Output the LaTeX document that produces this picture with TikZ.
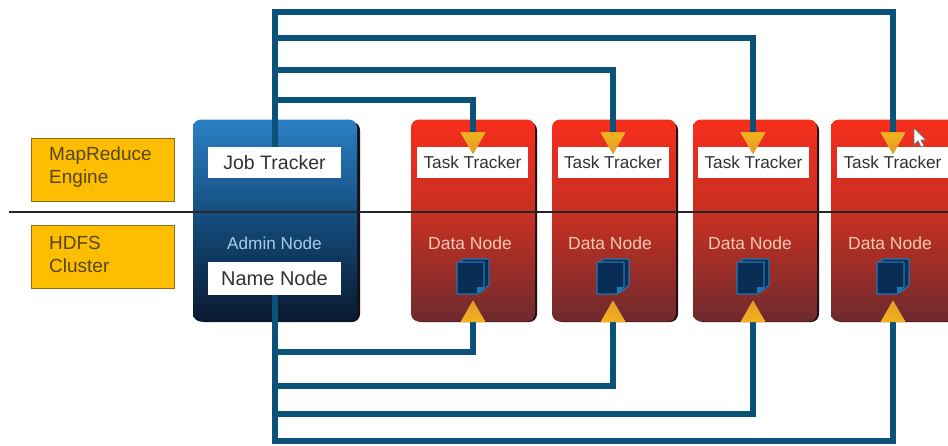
\documentclass[tikz,border=0pt]{standalone}
\usepackage{fontspec}
\setmainfont{Liberation Sans}
\usetikzlibrary{shapes.geometric}
\definecolor{busblue}{HTML}{0B5278}
\definecolor{txtgray}{HTML}{2E3236}
\definecolor{redtop}{HTML}{F62E1C}
\definecolor{redmid}{HTML}{C23022}
\definecolor{redbot}{HTML}{6E2A2E}
\definecolor{bluetop}{HTML}{2A80C4}
\definecolor{bluemid}{HTML}{144A7A}
\definecolor{bluebot}{HTML}{08192F}
\definecolor{shadowc}{HTML}{1B0E14}
\definecolor{legend}{HTML}{FDBD00}
\definecolor{legendedge}{HTML}{8A6E18}
\definecolor{legendtxt}{HTML}{55451A}
\definecolor{tipa}{HTML}{F2B21E}
\definecolor{tipb}{HTML}{E39A28}
\definecolor{docfill}{HTML}{0A2D55}
\definecolor{docedge}{HTML}{1E78B4}
\definecolor{adminc}{HTML}{A9CDE8}
\definecolor{datac}{HTML}{F6C8B4}
\tikzset{
  bus/.style={draw=busblue,line width=6pt,line cap=butt,line join=miter},
  whitebox/.style={fill=white,draw=none,inner sep=0pt,text=txtgray,minimum height=31pt},
  redbox/.style={rounded corners=8pt,inner sep=0pt,minimum width=124pt,minimum height=202pt,
    top color=redtop,bottom color=redbot,middle color=redmid},
  bluebox/.style={rounded corners=8pt,inner sep=0pt,minimum width=164pt,minimum height=202pt,
    top color=bluetop,bottom color=bluebot,middle color=bluemid},
  shadowbox/.style={rounded corners=8pt,fill=shadowc,inner sep=0pt,minimum height=200pt},
  yellowbox/.style={fill=legend,draw=legendedge,line width=1pt,inner sep=0pt,minimum width=143pt,minimum height=63pt},
  legendtext/.style={anchor=west,text=legendtxt,font=\fontsize{19}{23}\selectfont,align=left,inner sep=0pt},
  inlabel/.style={inner sep=0pt},
  tipdown/.style={isosceles triangle,isosceles triangle apex angle=60,shape border rotate=270,inner sep=0pt,minimum height=21pt,minimum width=25pt,draw=none,top color=tipa,bottom color=tipb},
  tipup/.style={isosceles triangle,isosceles triangle apex angle=60,shape border rotate=90,inner sep=0pt,minimum height=21pt,minimum width=25pt,draw=none,top color=tipb,bottom color=tipa},
  docicon/.style={fill=docfill,draw=docedge,line width=1.2pt,rounded corners=0.6pt},
}
\begin{document}
\begin{tikzpicture}[x=1pt,y=-1pt]
\useasboundingbox (0,0) rectangle (948,445);
\clip (0,0) rectangle (948,445);
% legend
\node[yellowbox] (mr) at (102.5,169.5) {};
\node[yellowbox] (hd) at (102.5,256.5) {};
\node[legendtext] (mrt) at (49,167.5) {MapReduce\\Engine};
\node[legendtext] (hdt) at (49,254.5) {HDFS\\Cluster};
% admin
\node[shadowbox,minimum width=164pt] (sa) at (278,222) {};
\node[bluebox] (admin) at (275,220.5) {};
% workers
\foreach \i/\cx in {1/473,2/614,3/755,4/893}{
  \node[shadowbox,minimum width=124pt] (s\i) at (\cx+2,222) {};
  \node[redbox] (w\i) at (\cx,220.5) {};
}
% line across
\coordinate (ls) at (9,212);
\coordinate (le) at (948,212);
\draw[line width=1.8pt,draw=black!85] (ls) -- (le);
% white boxes
\node[whitebox,minimum width=133pt,font=\fontsize{19.5}{21}\selectfont] (jt) at (274.5,162.5) {Job Tracker};
\node[whitebox,minimum width=133pt,minimum height=33pt,font=\fontsize{20}{22}\selectfont] (nn) at (274.5,278.5) {Name Node};
\node[inlabel,text=adminc,font=\fontsize{17.2}{19}\selectfont] (an) at (274.5,243) {Admin Node};
\foreach \i/\cx in {1/472.5,2/613,3/753.5,4/892.5}{
  \node[whitebox,minimum width=111pt,font=\fontsize{17.2}{19}\selectfont] (tt\i) at (\cx,162.5) {Task Tracker};
}
\foreach \i/\cx in {1/473,2/613,3/753,4/893}{
  \node[inlabel,text=datac,font=\fontsize{17.5}{19}\selectfont] (dn\i) at (\cx-3,243) {Data Node};
  \node[tipdown] (td\i) at (\cx,139.5) {};
  \node[tipup] (tu\i) at (\cx,315) {};
  \begin{scope}[shift={(\cx,0)}]
    \draw[docicon] (-11,259) -- (16,259) -- (16,285) -- (8,292) -- (-11,292) -- cycle;
    \draw[docicon] (-16,262) -- (11,262) -- (11,287) -- (4,294) -- (-16,294) -- cycle;
    \fill[docedge] (4,294) -- (4,287) -- (11,287) -- cycle;
  \end{scope}
}
% buses
\coordinate (h1) at (473,100);
\coordinate (h2) at (613,70);
\coordinate (h3) at (753,38);
\coordinate (h4) at (893,12);
\coordinate (l1) at (473,352);
\coordinate (l2) at (613,386);
\coordinate (l3) at (753,414);
\coordinate (l4) at (893,441);
\foreach \i in {1,2,3,4}{
  \draw[bus] (jt.north) |- (h\i) -- (td\i.north);
  \draw[bus] (nn.south) |- (l\i) -- (tu\i.south);
}
\foreach \i in {1,2,3,4}{
  \node[tipdown] at (td\i) {};
  \node[tipup] at (tu\i) {};
}
% cursor
\draw[fill=white,draw=black!55,line width=0.8pt] (914,128) -- (914,145) -- (918,141) -- (921,147) -- (924,146) -- (921,140) -- (926,140) -- cycle;
\end{tikzpicture}
\end{document}
